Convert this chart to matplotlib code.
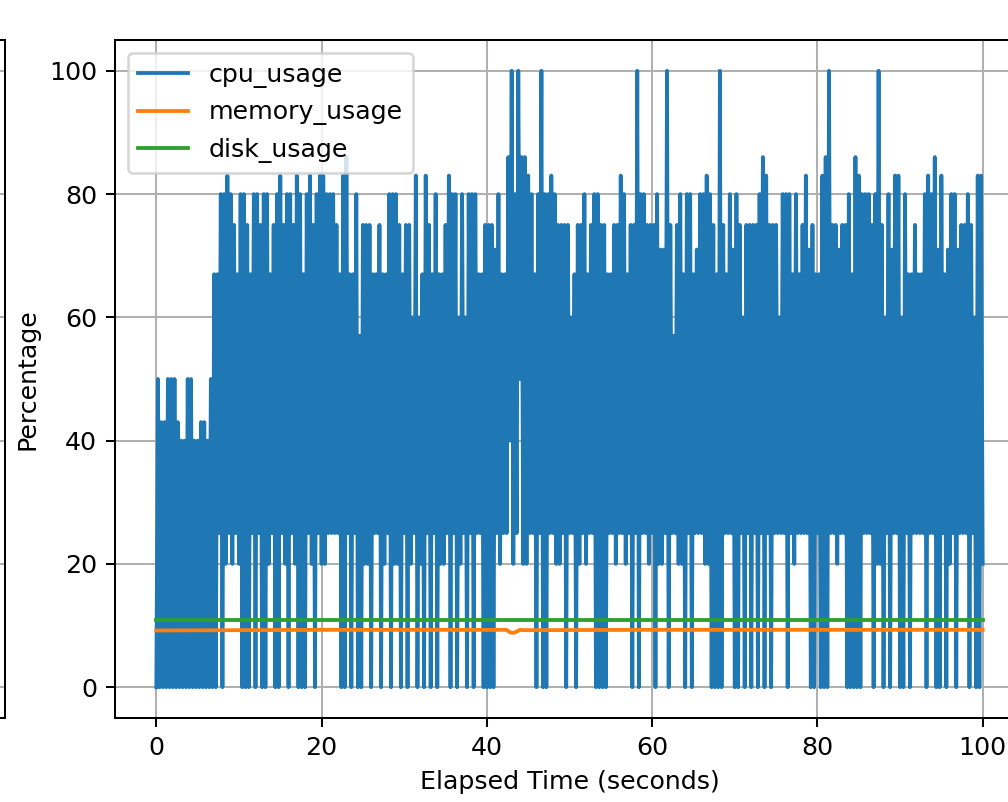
import numpy as np
import matplotlib
matplotlib.use("Agg")
import matplotlib.pyplot as plt

# cpu samples every 0.2 s, stored as alternating troughs / peaks
cpu_lows = [
    0, 0, 0, 0, 0, 0, 0, 0, 0, 0,
    0, 0, 0, 0, 0, 0, 0, 0, 0, 25,
    0, 20, 25, 20, 25, 20, 0, 0, 0, 25,
    0, 25, 0, 0, 20, 25, 0, 0, 25, 20,
    0, 25, 20, 0, 0, 0, 25, 20, 0, 25,
    20, 20, 25, 25, 25, 25, 0, 0, 25, 0,
    25, 0, 0, 20, 20, 0, 25, 25, 0, 20,
    25, 0, 20, 20, 0, 25, 0, 20, 25, 0,
    20, 0, 25, 0, 25, 0, 20, 20, 25, 0,
    25, 0, 20, 25, 0, 25, 0, 25, 25, 0,
    0, 0, 0, 25, 20, 25, 25, 40, 20, 25,
    50, 20, 20, 25, 25, 0, 25, 0, 0, 25,
    25, 20, 20, 25, 0, 25, 25, 0, 20, 25,
    20, 25, 25, 0, 0, 0, 0, 25, 25, 20,
    25, 25, 20, 25, 0, 25, 0, 25, 25, 20,
    25, 0, 20, 20, 25, 0, 25, 25, 20, 20,
    0, 25, 0, 25, 25, 25, 20, 20, 0, 0,
    0, 0, 25, 25, 25, 0, 0, 25, 0, 25,
    0, 25, 0, 25, 0, 25, 0, 25, 25, 25,
    25, 0, 25, 20, 25, 25, 25, 25, 0, 0,
    25, 0, 0, 0, 25, 25, 20, 25, 25, 0,
    0, 0, 0, 0, 25, 25, 25, 0, 20, 20,
    0, 25, 0, 25, 25, 0, 0, 25, 0, 25,
    25, 25, 25, 0, 25, 25, 0, 0, 25, 0,
    20, 25, 0, 25, 25, 25, 0, 25, 0, 0,
]
cpu_highs = [
    50, 43, 43, 50, 50, 50, 43, 40, 40, 50,
    50, 40, 40, 43, 43, 40, 50, 67, 67, 80,
    80, 83, 80, 75, 67, 80, 80, 75, 67, 80,
    80, 75, 80, 80, 67, 75, 80, 83, 75, 80,
    80, 75, 83, 80, 67, 80, 83, 75, 80, 83,
    83, 80, 80, 80, 75, 67, 83, 86, 67, 67,
    80, 57, 75, 75, 75, 67, 67, 75, 67, 67,
    80, 80, 80, 75, 67, 75, 75, 60, 83, 60,
    67, 83, 75, 67, 80, 67, 67, 75, 83, 80,
    80, 60, 80, 60, 80, 80, 80, 67, 67, 75,
    75, 75, 71, 80, 67, 67, 86, 100, 80, 100,
    86, 86, 83, 80, 67, 80, 100, 80, 80, 83,
    80, 75, 75, 75, 75, 60, 67, 75, 75, 80,
    67, 75, 80, 80, 75, 75, 67, 67, 75, 75,
    83, 80, 67, 75, 75, 100, 80, 80, 75, 75,
    75, 80, 71, 71, 100, 75, 57, 75, 80, 67,
    80, 80, 67, 71, 80, 80, 83, 80, 75, 67,
    100, 75, 67, 80, 71, 80, 75, 60, 75, 75,
    75, 75, 80, 86, 83, 75, 75, 75, 60, 80,
    80, 80, 67, 80, 67, 75, 83, 71, 75, 67,
    67, 83, 86, 100, 75, 75, 71, 75, 75, 80,
    67, 86, 83, 80, 80, 80, 75, 80, 100, 75,
    60, 80, 71, 83, 83, 60, 80, 67, 67, 75,
    67, 67, 80, 83, 80, 86, 71, 83, 67, 71,
    80, 80, 71, 75, 75, 80, 75, 60, 83, 83,
]
cpu_last = 20
sample_step = 0.2

mem_time = [0, 20, 40, 42.4, 42.8, 43.2, 43.6, 44.0, 44.4, 60, 80, 100]
mem_usage = [9.2, 9.3, 9.3, 9.3, 8.9, 8.8, 9.0, 9.3, 9.25, 9.3, 9.3, 9.3]
disk_time = [0, 50, 100]
disk_usage = [10.9, 10.9, 10.9]

cpu = np.empty(2 * len(cpu_lows) + 1)
cpu[0:-1:2] = cpu_lows
cpu[1:-1:2] = cpu_highs
cpu[-1] = cpu_last
cpu_time = np.arange(len(cpu)) * sample_step

fig = plt.figure(figsize=(1008 / 182, 802 / 182), dpi=182)

# neighbouring subplot, only its right edge shows in the crop
ax0 = fig.add_axes([-0.8968, 0.10474, 0.9018, 0.84539])
ax0.set_xlim(-5, 105)
ax0.set_ylim(-5, 105)
ax0.grid(True)
ax0.tick_params(labelbottom=False, labelleft=False)

ax = fig.add_axes([0.11409, 0.10474, 0.9018, 0.84539])
ax.plot(cpu_time, cpu, label="cpu_usage")
ax.plot(mem_time, mem_usage, label="memory_usage")
ax.plot(disk_time, disk_usage, label="disk_usage")
ax.set_xlim(-5, 105)
ax.set_ylim(-5, 105)
ax.set_xticks([0, 20, 40, 60, 80, 100])
ax.set_yticks([0, 20, 40, 60, 80, 100])
ax.grid(True)
ax.legend(loc="upper left")
ax.set_xlabel("Elapsed Time (seconds)")
ax.set_ylabel("Percentage")

fig.savefig("out.png", dpi=182)
